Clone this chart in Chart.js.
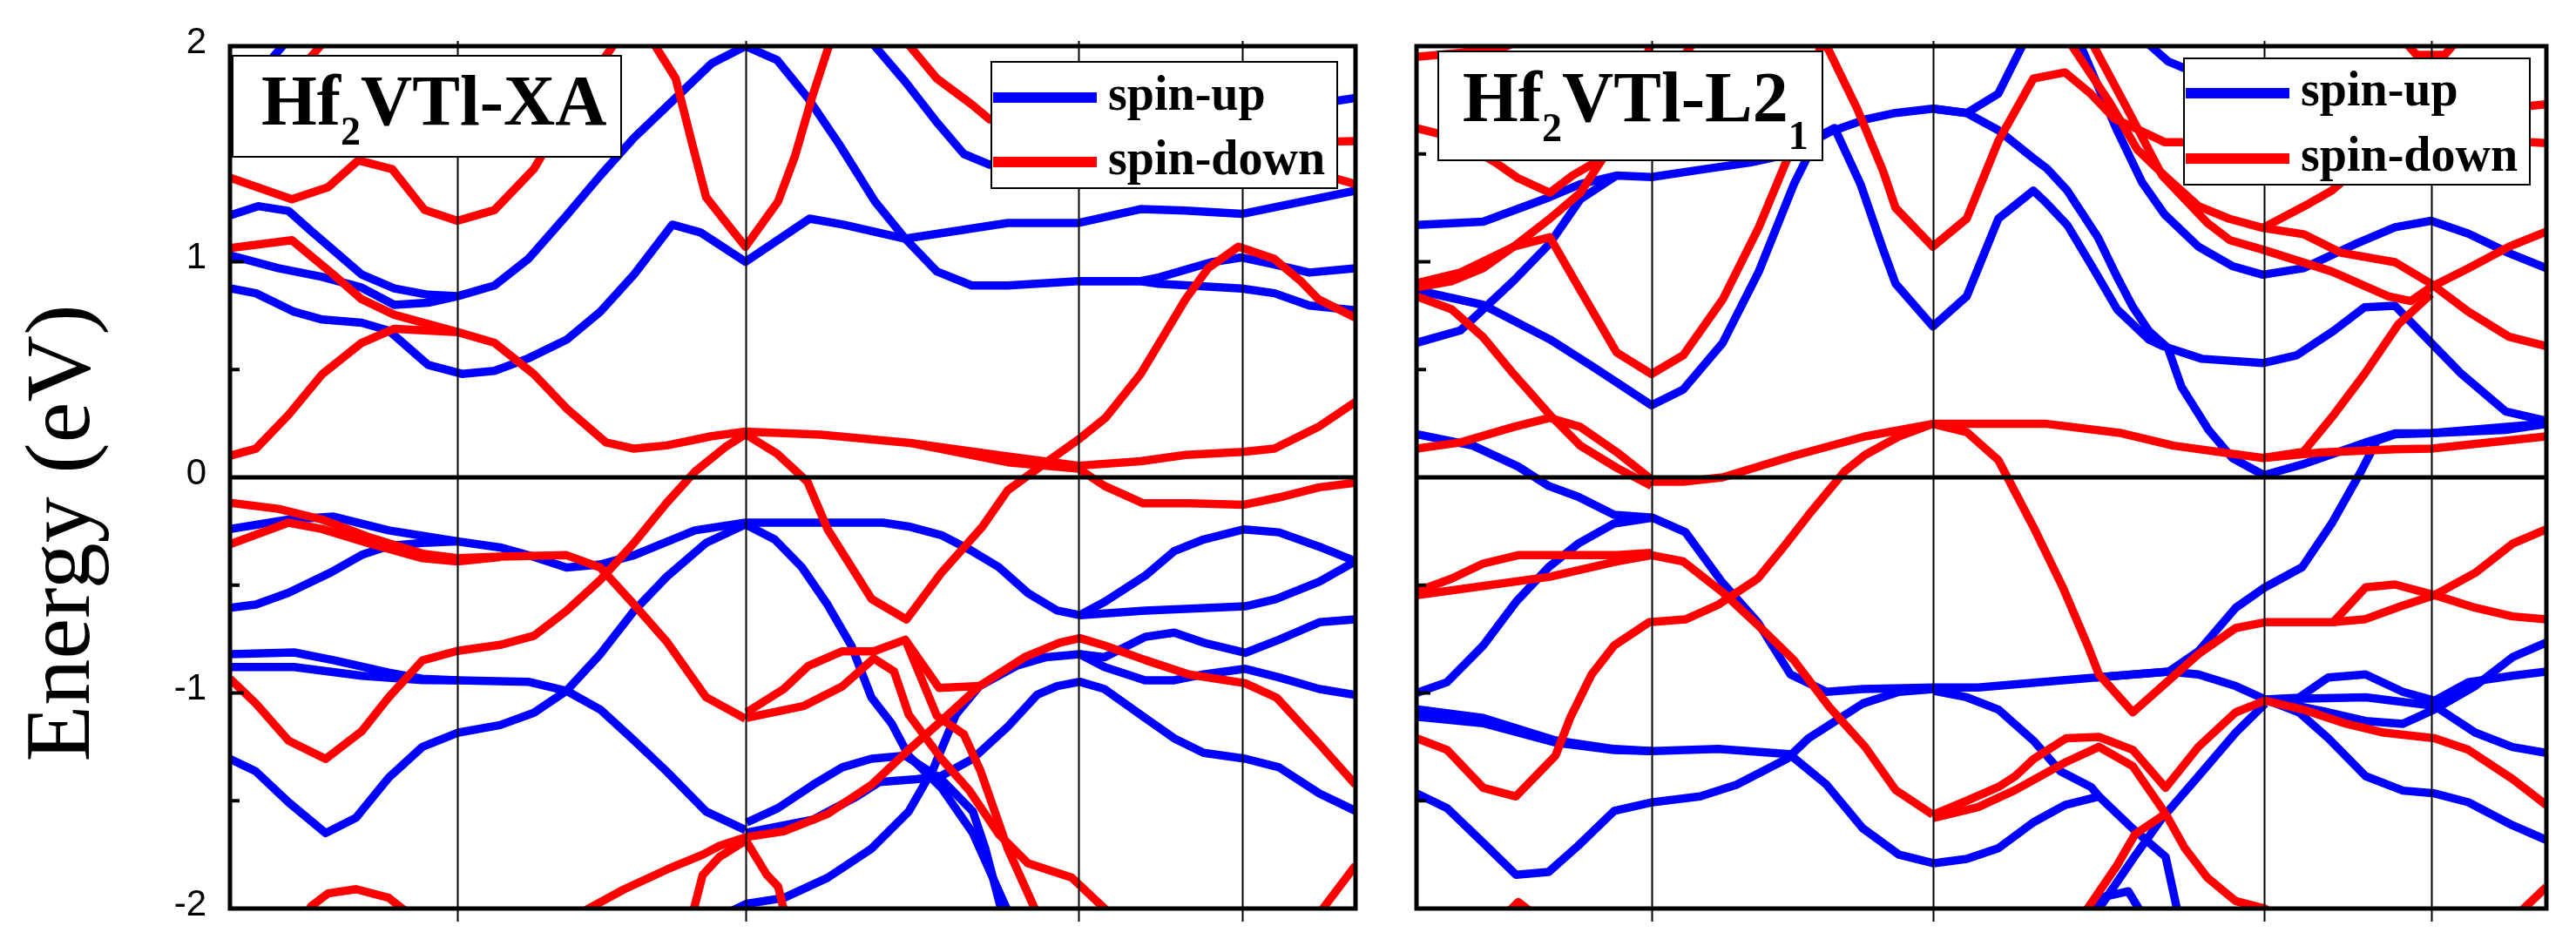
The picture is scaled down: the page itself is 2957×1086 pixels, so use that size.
<!DOCTYPE html>
<html>
<head>
<meta charset="utf-8">
<script src="https://cdn.jsdelivr.net/npm/chart.js@4.4.1/dist/chart.umd.min.js"></script>
<style>
  html, body { margin: 0; padding: 0; background: #fff; }
  #wrap { position: relative; width: 2957px; height: 1086px; overflow: hidden; background: #fff; }
  canvas { position: absolute; top: 0; }
  #cXA { left: 0; }
  #cL21 { left: 1590px; }
</style>
</head>
<body>
<div id="wrap">
  <canvas id="cXA" width="1590" height="1086"></canvas>
  <canvas id="cL21" width="1367" height="1086"></canvas>
</div>
<script>
// k-path is W-L-G-X-W-K, x given as fraction of the path length
const kLinesXA = [0.202, 0.458, 0.754, 0.899];
const kLinesL21 = [0.208, 0.457, 0.75, 0.898];
const yTicks = [-2, -1, 0, 1, 2];
const legendLabels = ['spin-up', 'spin-down'];
const upColor = '#0000ff';
const downColor = '#ff0000';

// ---- Hf2VTl-XA, spin-up bands [k, E] ----
const xaU1 = [[0,1.215],[0.025,1.258],[0.052,1.236],[0.072,1.143],[0.117,0.941],[0.146,0.876],[0.176,0.847],[0.202,0.84],[0.235,0.89],[0.265,1.013],[0.299,1.215],[0.329,1.40],[0.359,1.575],[0.388,1.72],[0.428,1.92],[0.458,2.0],[0.486,1.936],[0.513,1.763],[0.541,1.547],[0.573,1.28],[0.6,1.107],[0.628,0.955],[0.659,0.89],[0.691,0.89],[0.754,0.91],[0.809,0.91],[0.825,0.898],[0.899,0.876],[0.928,0.854],[0.959,0.797],[1.0,0.775]];
const xaU2 = [[0,1.03],[0.043,0.97],[0.082,0.93],[0.117,0.88],[0.146,0.80],[0.176,0.81],[0.202,0.84]];
const xaU3 = [[0.754,0.91],[0.809,0.91],[0.825,0.927],[0.872,0.998],[0.899,1.02],[0.928,0.987],[0.959,0.95],[1.0,0.97]];
const xaU4 = [[0,0.877],[0.023,0.854],[0.057,0.768],[0.082,0.732],[0.117,0.717],[0.141,0.681],[0.176,0.522],[0.206,0.48],[0.235,0.494],[0.265,0.552],[0.299,0.638],[0.329,0.768],[0.359,0.941],[0.393,1.172],[0.418,1.136],[0.458,1.0],[0.515,1.2],[0.545,1.172],[0.6,1.107],[0.691,1.18],[0.754,1.18],[0.809,1.244],[0.849,1.237],[0.899,1.222],[1.0,1.33]];
const xaU5 = [[0,1.75],[0.03,1.9],[0.055,2.05],[0.07,2.3]];
const xaU6 = [[0.55,2.3],[0.573,2.0],[0.6,1.835],[0.628,1.647],[0.652,1.5],[0.675,1.45],[0.75,1.42],[0.85,1.55],[0.95,1.72],[1.0,1.76]];
const xaU7 = [[0,-0.24],[0.052,-0.196],[0.092,-0.182],[0.141,-0.246],[0.202,-0.297],[0.24,-0.325],[0.265,-0.361],[0.299,-0.418],[0.329,-0.404],[0.359,-0.361],[0.413,-0.246],[0.458,-0.21],[0.518,-0.21],[0.58,-0.21],[0.603,-0.228],[0.632,-0.268],[0.657,-0.335],[0.683,-0.416],[0.709,-0.537],[0.735,-0.618],[0.755,-0.639],[0.777,-0.578],[0.813,-0.457],[0.839,-0.342],[0.865,-0.288],[0.901,-0.241],[0.932,-0.255],[0.968,-0.322],[1.0,-0.389]];
const xaU8 = [[0.755,-0.639],[0.813,-0.618],[0.902,-0.598],[0.929,-0.565],[0.968,-0.483],[1.0,-0.389]];
const xaU9 = [[0,-0.605],[0.023,-0.59],[0.052,-0.535],[0.09,-0.44],[0.117,-0.36],[0.141,-0.318],[0.171,-0.304],[0.202,-0.297]];
const xaU10 = [[0,-0.82],[0.057,-0.812],[0.092,-0.848],[0.141,-0.906],[0.171,-0.934],[0.202,-0.941],[0.265,-0.948],[0.299,-0.99],[0.329,-1.077],[0.359,-1.22],[0.388,-1.364],[0.423,-1.55],[0.458,-1.636]];
const xaU11 = [[0,-0.88],[0.057,-0.88],[0.117,-0.92],[0.171,-0.94],[0.202,-0.941]];
const xaU12 = [[0,-1.306],[0.023,-1.364],[0.052,-1.507],[0.085,-1.65],[0.112,-1.579],[0.141,-1.393],[0.171,-1.25],[0.202,-1.185],[0.24,-1.149],[0.27,-1.092],[0.299,-0.99],[0.329,-0.82],[0.359,-0.619],[0.388,-0.461],[0.423,-0.304],[0.458,-0.218],[0.484,-0.288],[0.508,-0.416],[0.531,-0.591],[0.552,-0.78],[0.57,-1.022],[0.588,-1.143],[0.603,-1.291],[0.632,-1.44],[0.66,-1.65],[0.69,-2.0],[0.7,-2.1]];
const xaU13 = [[0.459,-1.601],[0.487,-1.534],[0.518,-1.426],[0.544,-1.345],[0.57,-1.305],[0.6,-1.291],[0.632,-1.40],[0.66,-1.55],[0.671,-1.72],[0.685,-2.0],[0.69,-2.1]];
const xaU14 = [[0.459,-1.648],[0.518,-1.588],[0.557,-1.48],[0.577,-1.413],[0.61,-1.40],[0.632,-1.385],[0.66,-1.305],[0.691,-1.157],[0.717,-1.009],[0.735,-0.968],[0.755,-0.948],[0.777,-0.982],[0.813,-1.116],[0.839,-1.211],[0.865,-1.278],[0.902,-1.305],[0.932,-1.345],[0.968,-1.467],[1.0,-1.547]];
const xaU15 = [[0.43,-2.05],[0.459,-1.978],[0.492,-1.951],[0.531,-1.857],[0.57,-1.722],[0.603,-1.55],[0.625,-1.35],[0.645,-1.1],[0.666,-0.968],[0.699,-0.874],[0.725,-0.834],[0.755,-0.82],[0.777,-0.88],[0.813,-0.941],[0.839,-0.941],[0.865,-0.914],[0.902,-0.888],[0.932,-0.928],[0.968,-0.982],[1.0,-1.009]];
const xaU16 = [[0.755,-0.82],[0.777,-0.834],[0.813,-0.74],[0.839,-0.72],[0.865,-0.767],[0.902,-0.814],[0.932,-0.753],[0.968,-0.672],[1.0,-0.659]];

// ---- Hf2VTl-XA, spin-down bands ----
const xaD1 = [[0,1.39],[0.055,1.29],[0.087,1.345],[0.114,1.47],[0.144,1.43],[0.173,1.24],[0.202,1.19],[0.235,1.24],[0.27,1.43],[0.3,1.7],[0.34,2.0],[0.36,2.15]];
const xaD2 = [[0,1.51],[0.04,1.75],[0.08,2.0],[0.1,2.15]];
const xaD3 = [[0.36,2.15],[0.378,2.0],[0.396,1.85],[0.41,1.56],[0.423,1.3],[0.438,1.2],[0.458,1.07],[0.487,1.28],[0.502,1.49],[0.517,1.76],[0.532,2.0],[0.545,2.2]];
const xaD4 = [[0.58,2.2],[0.604,2.0],[0.628,1.85],[0.659,1.73],[0.675,1.66],[0.8,1.55],[0.9,1.55],[1.0,1.56]];
const xaD5 = [[0.96,1.42],[1.0,1.36]];
const xaD6 = [[0,1.063],[0.055,1.1],[0.092,0.94],[0.117,0.826],[0.146,0.754],[0.202,0.674],[0.235,0.624],[0.27,0.479],[0.299,0.32],[0.334,0.162],[0.359,0.133],[0.388,0.148],[0.428,0.191],[0.458,0.212],[0.525,0.198],[0.604,0.16],[0.691,0.097],[0.754,0.054],[0.809,0.075],[0.849,0.104],[0.9,0.118],[0.928,0.133],[0.967,0.234],[1.0,0.35]];
const xaD7 = [[0,0.1],[0.023,0.133],[0.052,0.29],[0.082,0.479],[0.117,0.624],[0.146,0.689],[0.202,0.674]];
const xaD8 = [[0,-0.934],[0.023,-1.049],[0.052,-1.221],[0.085,-1.306],[0.117,-1.178],[0.141,-1.02],[0.171,-0.849],[0.202,-0.805],[0.24,-0.777],[0.27,-0.735],[0.299,-0.619],[0.329,-0.476],[0.359,-0.304],[0.388,-0.118],[0.413,0.026],[0.44,0.14],[0.458,0.2],[0.486,0.11],[0.513,-0.02],[0.531,-0.241],[0.57,-0.564],[0.601,-0.659],[0.632,-0.443],[0.668,-0.232],[0.691,-0.06],[0.72,0.05],[0.754,0.176],[0.778,0.277],[0.809,0.479],[0.829,0.652],[0.849,0.826],[0.869,0.97],[0.896,1.07],[0.928,1.013],[0.951,0.912],[0.967,0.826],[1.0,0.74]];
const xaD9 = [[0.604,0.16],[0.691,0.07],[0.754,0.04],[0.777,-0.04],[0.811,-0.12],[0.852,-0.12],[0.901,-0.127],[0.932,-0.093],[0.968,-0.046],[1.0,-0.025]];
const xaD10 = [[0,-0.118],[0.043,-0.146],[0.082,-0.196],[0.122,-0.275],[0.171,-0.354],[0.202,-0.375],[0.24,-0.368],[0.299,-0.361],[0.329,-0.418],[0.359,-0.59],[0.388,-0.762],[0.423,-1.02],[0.458,-1.12]];
const xaD11 = [[0,-0.31],[0.052,-0.21],[0.082,-0.24],[0.122,-0.304],[0.171,-0.375],[0.202,-0.39],[0.24,-0.37]];
const xaD12 = [[0.459,-1.09],[0.492,-0.982],[0.514,-0.874],[0.544,-0.807],[0.572,-0.807],[0.6,-0.753],[0.63,-0.977],[0.666,-0.968]];
const xaD13 = [[0.459,-1.668],[0.492,-1.642],[0.531,-1.561],[0.57,-1.426],[0.603,-1.264],[0.632,-1.13],[0.666,-0.968],[0.706,-0.834],[0.737,-0.767],[0.755,-0.746],[0.777,-0.78],[0.813,-0.847],[0.852,-0.914],[0.902,-0.955],[0.93,-1.022],[0.968,-1.238],[1.0,-1.426]];
const xaD14 = [[0.459,-1.116],[0.51,-1.06],[0.544,-0.97],[0.572,-0.84],[0.59,-0.9],[0.603,-1.1],[0.632,-1.305],[0.657,-1.453],[0.683,-1.655],[0.709,-1.79],[0.748,-1.857],[0.777,-2.0],[0.79,-2.1]];
const xaD15 = [[0.6,-0.753],[0.628,-1.106],[0.652,-1.192],[0.667,-1.364],[0.691,-1.722],[0.715,-2.0],[0.72,-2.1]];
const xaD16 = [[0.3,-2.1],[0.317,-2.005],[0.35,-1.911],[0.389,-1.817],[0.42,-1.75],[0.435,-1.709],[0.459,-1.668]];
const xaD17 = [[0.41,-2.1],[0.412,-2.005],[0.42,-1.844],[0.435,-1.76],[0.459,-1.682]];
const xaD18 = [[0.459,-1.69],[0.477,-1.844],[0.487,-1.898],[0.492,-2.005],[0.495,-2.1]];
const xaD19 = [[0.06,-2.1],[0.072,-1.99],[0.087,-1.93],[0.112,-1.91],[0.141,-1.95],[0.165,-2.05]];
const xaD20 = [[0.965,-2.1],[0.971,-2.0],[1.0,-1.8]];

// ---- Hf2VTl-L21, spin-up bands ----
const l2U1 = [[0,1.171],[0.059,1.186],[0.118,1.30],[0.145,1.36],[0.177,1.40],[0.208,1.393],[0.255,1.43],[0.295,1.46],[0.33,1.50],[0.365,1.60],[0.397,1.66],[0.424,1.69],[0.457,1.71],[0.487,1.69],[0.515,1.78],[0.535,1.99],[0.545,2.1]];
const l2U2 = [[0.457,1.71],[0.487,1.69],[0.515,1.61],[0.546,1.48],[0.558,1.432],[0.576,1.33],[0.603,1.114],[0.62,0.93],[0.634,0.79],[0.648,0.68],[0.665,0.6],[0.677,0.42],[0.701,0.22],[0.722,0.09],[0.75,0.01],[0.784,0.06],[0.839,0.16],[0.866,0.204],[0.898,0.205],[0.964,0.22],[1.0,0.248]];
const l2U3 = [[0,0.868],[0.059,0.80],[0.118,0.64],[0.157,0.51],[0.208,0.334],[0.236,0.407],[0.271,0.624],[0.303,0.955],[0.334,1.36],[0.355,1.58],[0.37,1.62],[0.393,1.36],[0.413,1.056],[0.424,0.898],[0.457,0.70],[0.487,0.84],[0.515,1.2],[0.546,1.33],[0.558,1.27],[0.576,1.17],[0.6,0.96],[0.62,0.78],[0.648,0.64],[0.66,0.61],[0.695,0.55],[0.749,0.53],[0.779,0.566],[0.812,0.681],[0.839,0.789],[0.866,0.796],[0.898,0.624],[0.925,0.479],[0.964,0.306],[1.0,0.262]];
const l2U4 = [[0,0.624],[0.039,0.682],[0.086,0.912],[0.118,1.085],[0.145,1.29],[0.177,1.40]];
const l2U5 = [[0,0.2],[0.05,0.147],[0.09,0.05],[0.117,-0.04],[0.143,-0.09],[0.175,-0.174],[0.209,-0.187],[0.238,-0.254],[0.27,-0.483],[0.302,-0.672],[0.331,-0.914],[0.363,-0.995],[0.395,-0.982],[0.458,-0.975],[0.497,-0.975],[0.601,-0.928],[0.666,-0.901],[0.692,-0.807],[0.725,-0.605],[0.751,-0.51],[0.784,-0.416],[0.81,-0.214],[0.836,0.028],[0.85,0.17],[0.866,0.2],[0.898,0.205],[1.0,0.25]];
const l2U6 = [[0.601,-0.928],[0.666,-0.901],[0.692,-0.914],[0.725,-0.968],[0.751,-1.03],[0.781,-1.09],[0.807,-1.21],[0.84,-1.386],[0.873,-1.453],[0.901,-1.466],[0.931,-1.507],[0.97,-1.614],[1.0,-1.682]];
const l2U7 = [[0,-1.0],[0.027,-0.95],[0.059,-0.78],[0.088,-0.578],[0.117,-0.416],[0.143,-0.308],[0.175,-0.214],[0.209,-0.187]];
const l2U8 = [[0,-1.076],[0.059,-1.116],[0.123,-1.22],[0.175,-1.26],[0.209,-1.27],[0.267,-1.26],[0.33,-1.284],[0.363,-1.426],[0.395,-1.628],[0.427,-1.75],[0.458,-1.79]];
const l2U9 = [[0,-1.11],[0.059,-1.14],[0.123,-1.23],[0.175,-1.265],[0.209,-1.27]];
const l2U10 = [[0,-1.466],[0.027,-1.534],[0.059,-1.695],[0.088,-1.843],[0.117,-1.83],[0.143,-1.709],[0.175,-1.547],[0.209,-1.507],[0.251,-1.48],[0.283,-1.426],[0.328,-1.305],[0.347,-1.21],[0.363,-1.157],[0.395,-1.049],[0.427,-0.995],[0.458,-0.982]];
const l2U11 = [[0.458,-0.99],[0.487,-1.02],[0.515,-1.077],[0.546,-1.221],[0.57,-1.364],[0.597,-1.436],[0.604,-1.48]];
const l2U12 = [[0.458,-1.79],[0.487,-1.77],[0.515,-1.72],[0.546,-1.6],[0.574,-1.52],[0.604,-1.48],[0.634,-1.63],[0.663,-1.76],[0.673,-2.0],[0.676,-2.1]];
const l2U13 = [[0.598,-2.1],[0.604,-2.0],[0.634,-1.77],[0.66,-1.58],[0.692,-1.386],[0.725,-1.184],[0.751,-1.05]];
const l2U14 = [[0.751,-1.03],[0.781,-1.022],[0.807,-0.928],[0.84,-0.914],[0.873,-0.995],[0.901,-1.036],[0.931,-0.95],[0.97,-0.92],[1.0,-0.901]];
const l2U15 = [[0.751,-1.03],[0.84,-1.02],[0.901,-1.06],[0.937,-1.184],[0.97,-1.251],[1.0,-1.278]];
const l2U16 = [[0.751,-1.03],[0.807,-1.09],[0.84,-1.13],[0.873,-1.143],[0.901,-1.076],[0.937,-0.968],[0.97,-0.834],[1.0,-0.766]];
const l2U17 = [[0.59,-2.05],[0.605,-1.95],[0.63,-1.92],[0.645,-2.05]];
const l2U18 = [[0.575,2.1],[0.588,2.0],[0.62,1.61],[0.642,1.37],[0.662,1.22],[0.692,1.07],[0.722,0.98],[0.749,0.94],[0.785,0.97],[0.83,1.08],[0.866,1.16],[0.898,1.19],[0.931,1.13],[0.967,1.04],[1.0,0.97]];
const l2U19 = [[0.64,2.05],[0.65,2.0],[0.665,1.93],[0.683,1.89],[0.72,1.88]];

// ---- Hf2VTl-L21, spin-down bands ----
const l2D1 = [[0,1.95],[0.04,1.97],[0.08,2.0],[0.1,2.05]];
const l2D2 = [[0,1.62],[0.03,1.58],[0.07,1.46],[0.089,1.39],[0.118,1.32],[0.138,1.40],[0.161,1.47],[0.2,1.7],[0.25,2.05]];
const l2D3 = [[0,0.9],[0.039,0.95],[0.086,1.07],[0.118,1.2],[0.145,1.32],[0.165,1.48],[0.19,1.75],[0.21,2.05]];
const l2D4 = [[0,0.84],[0.031,0.78],[0.059,0.65],[0.086,0.479],[0.118,0.29],[0.145,0.147],[0.177,0.045],[0.208,-0.04]];
const l2D5 = [[0,0.133],[0.039,0.162],[0.086,0.234],[0.118,0.276],[0.145,0.234],[0.177,0.118],[0.208,-0.01]];
const l2D6 = [[0,0.88],[0.031,0.91],[0.059,0.97],[0.086,1.07],[0.118,1.114],[0.145,0.868],[0.177,0.58],[0.208,0.479],[0.236,0.566],[0.271,0.825],[0.303,1.16],[0.33,1.5],[0.345,1.75],[0.36,2.05]];
const l2D7 = [[0.355,2.05],[0.365,1.98],[0.39,1.71],[0.413,1.42],[0.424,1.25],[0.457,1.07],[0.487,1.2],[0.515,1.56],[0.546,1.85],[0.574,1.878],[0.597,1.778],[0.618,1.663],[0.636,1.62],[0.662,1.555],[0.68,1.555],[0.8,1.6],[0.9,1.68],[1.0,1.73]];
const l2D8 = [[0.97,1.56],[1.0,1.55]];
const l2D9 = [[0.57,2.1],[0.581,1.994],[0.614,1.735],[0.638,1.52],[0.662,1.40],[0.692,1.258],[0.719,1.20],[0.749,1.157],[0.785,1.128],[0.818,1.042],[0.866,0.998],[0.898,0.898],[0.931,0.768],[0.967,0.652],[1.0,0.609]];
const l2D10 = [[0.59,2.1],[0.6,1.994],[0.63,1.7],[0.66,1.4],[0.7,1.18],[0.72,1.10],[0.749,1.056],[0.81,0.955],[0.86,0.84],[0.88,0.818],[0.898,0.883],[0.931,0.97],[0.967,1.07],[1.0,1.14]];
const l2D11 = [[0.749,1.157],[0.79,1.27],[0.81,1.33],[0.83,1.42]];
const l2D12 = [[0.208,-0.02],[0.236,-0.02],[0.271,0.0],[0.334,0.10],[0.397,0.19],[0.457,0.248],[0.558,0.248],[0.624,0.205],[0.67,0.147],[0.749,0.09],[0.8,0.115],[0.866,0.13],[0.898,0.133],[1.0,0.19]];
const l2D13 = [[0.749,0.09],[0.785,0.118],[0.812,0.291],[0.839,0.479],[0.869,0.71],[0.898,0.85]];
const l2D14 = [[0,-1.21],[0.027,-1.264],[0.059,-1.44],[0.088,-1.48],[0.123,-1.291],[0.136,-1.116],[0.155,-0.914],[0.175,-0.78],[0.206,-0.672],[0.238,-0.659],[0.267,-0.591],[0.302,-0.47],[0.325,-0.322],[0.347,-0.174],[0.379,0.028],[0.397,0.104],[0.427,0.19],[0.457,0.248],[0.487,0.21],[0.515,0.08],[0.546,-0.23],[0.572,-0.51],[0.594,-0.78],[0.604,-0.914],[0.634,-1.09],[0.666,-0.941],[0.692,-0.82],[0.725,-0.699],[0.751,-0.672],[0.81,-0.672],[0.839,-0.659],[0.87,-0.6],[0.901,-0.546],[0.937,-0.443],[0.97,-0.308],[1.0,-0.241]];
const l2D15 = [[0.81,-0.68],[0.84,-0.51],[0.866,-0.497],[0.901,-0.546],[0.937,-0.605],[0.97,-0.645],[1.0,-0.659]];
const l2D16 = [[0,-0.547],[0.059,-0.504],[0.118,-0.461],[0.177,-0.39],[0.208,-0.361],[0.236,-0.39],[0.271,-0.533],[0.303,-0.69],[0.334,-0.848],[0.365,-1.063],[0.397,-1.25],[0.424,-1.45],[0.457,-1.565]];
const l2D17 = [[0,-0.53],[0.031,-0.47],[0.059,-0.40],[0.09,-0.361],[0.177,-0.361],[0.208,-0.35]];
const l2D18 = [[0.457,-1.565],[0.487,-1.5],[0.515,-1.436],[0.53,-1.386],[0.546,-1.307],[0.575,-1.21],[0.604,-1.204],[0.634,-1.264],[0.663,-1.44],[0.692,-1.25],[0.725,-1.09],[0.751,-1.036],[0.784,-1.076],[0.823,-1.143],[0.856,-1.184],[0.901,-1.21],[0.931,-1.264],[0.97,-1.399],[1.0,-1.52]];
const l2D19 = [[0.457,-1.58],[0.497,-1.53],[0.53,-1.45],[0.575,-1.32],[0.604,-1.25],[0.634,-1.34],[0.663,-1.56]];
const l2D20 = [[0.663,-1.56],[0.68,-1.72],[0.7,-1.857],[0.725,-1.965],[0.751,-2.0],[0.77,-2.1]];
const l2D21 = [[0.59,-2.1],[0.594,-2.0],[0.62,-1.8],[0.636,-1.655],[0.663,-1.56]];
const l2D22 = [[0.075,-2.05],[0.09,-1.97],[0.11,-2.05]];
const l2D23 = [[0.975,-2.05],[0.98,-2.0],[1.0,-1.9]];
const l2D24 = [[0.87,2.05],[0.885,1.96],[0.91,1.96],[0.925,2.05]];

const xaSpinUp = [xaU1, xaU2, xaU3, xaU4, xaU5, xaU6, xaU7, xaU8, xaU9, xaU10, xaU11, xaU12, xaU13, xaU14, xaU15, xaU16];
const xaSpinDown = [xaD1, xaD2, xaD3, xaD4, xaD5, xaD6, xaD7, xaD8, xaD9, xaD10, xaD11, xaD12, xaD13, xaD14, xaD15, xaD16, xaD17, xaD18, xaD19, xaD20];
const l21SpinUp = [l2U1, l2U2, l2U3, l2U4, l2U5, l2U6, l2U7, l2U8, l2U9, l2U10, l2U11, l2U12, l2U13, l2U14, l2U15, l2U16, l2U17, l2U18, l2U19];
const l21SpinDown = [l2D1, l2D2, l2D3, l2D4, l2D5, l2D6, l2D7, l2D8, l2D9, l2D10, l2D11, l2D12, l2D13, l2D14, l2D15, l2D16, l2D17, l2D18, l2D19, l2D20, l2D21, l2D22, l2D23, l2D24];

function bandDatasets(bands, color, label, order) {
    return bands.map(b => ({
        label: label,
        data: b.map(p => ({ x: p[0], y: p[1] })),
        borderColor: color,
        backgroundColor: color,
        borderWidth: 9.5,
        borderJoinStyle: 'round',
        pointRadius: 0,
        fill: false,
        tension: 0,
        clip: 0,
        order: order
    }));
}

// frame, k-lines, ticks, label box and legend drawn on top of the bands
function panelPlugin(cfg) {
    return {
        id: 'panelDeco',
        afterDraw(chart) {
            const ctx = chart.ctx;
            const a = chart.chartArea;
            const xs = chart.scales.x, ys = chart.scales.y;
            ctx.save();
            ctx.strokeStyle = '#000';

            // high symmetry lines
            ctx.lineWidth = 2;
            cfg.kLines.forEach(k => {
                const px = Math.round(xs.getPixelForValue(k)) + 0.5;
                ctx.beginPath();
                ctx.moveTo(px, a.top - 6);
                ctx.lineTo(px, a.bottom + 15);
                ctx.stroke();
            });

            // Fermi level
            const y0 = ys.getPixelForValue(0);
            ctx.lineWidth = 5;
            ctx.beginPath();
            ctx.moveTo(a.left, y0);
            ctx.lineTo(a.right, y0);
            ctx.stroke();

            // inner ticks on left frame
            ctx.lineWidth = 4;
            for (let v = -1.5; v <= 1.5; v += 0.5) {
                const py = ys.getPixelForValue(v);
                const len = Number.isInteger(v) ? 16 : 11;
                ctx.beginPath();
                ctx.moveTo(a.left, py);
                ctx.lineTo(a.left + len, py);
                ctx.stroke();
            }

            // frame
            ctx.lineWidth = 5;
            ctx.strokeRect(a.left, a.top, a.right - a.left, a.bottom - a.top);

            // y tick labels and axis title (left panel only)
            if (cfg.yLabels) {
                ctx.fillStyle = '#000';
                ctx.font = '42px "Liberation Sans", Arial, sans-serif';
                ctx.textAlign = 'right';
                ctx.textBaseline = 'middle';
                yTicks.forEach(t => {
                    ctx.fillText(String(t), 237, ys.getPixelForValue(t) - 4);
                });
                ctx.save();
                ctx.translate(102, 612);
                ctx.rotate(-Math.PI / 2);
                ctx.font = '106px "Liberation Serif", "Times New Roman", serif';
                ctx.textAlign = 'center';
                ctx.textBaseline = 'alphabetic';
                ctx.fillText('Energy (eV)', 0, 0);
                ctx.restore();
            }

            // compound label box
            const lb = cfg.labelBox;
            ctx.fillStyle = '#fff';
            ctx.fillRect(lb.x, lb.y, lb.w, lb.h);
            ctx.lineWidth = 2;
            ctx.strokeRect(lb.x, lb.y, lb.w, lb.h);
            ctx.fillStyle = '#000';
            ctx.textAlign = 'left';
            ctx.textBaseline = 'alphabetic';
            let tx = lb.tx;
            lb.parts.forEach(p => {
                ctx.font = p.sub ? 'bold 46px "Liberation Serif", serif' : 'bold 82px "Liberation Serif", serif';
                ctx.fillText(p.t, tx, p.sub ? lb.ty + p.sub : lb.ty);
                tx += ctx.measureText(p.t).width;
            });

            // legend
            const lg = cfg.legend;
            ctx.fillStyle = '#fff';
            ctx.fillRect(lg.x, lg.y, lg.w, lg.h);
            ctx.lineWidth = 2;
            ctx.strokeStyle = '#000';
            ctx.strokeRect(lg.x, lg.y, lg.w, lg.h);
            [upColor, downColor].forEach((c, i) => {
                const ly = lg.rows[i];
                ctx.strokeStyle = c;
                ctx.lineWidth = 12;
                ctx.beginPath();
                ctx.moveTo(lg.x + 2, ly);
                ctx.lineTo(lg.x + 121, ly);
                ctx.stroke();
                ctx.fillStyle = '#000';
                ctx.font = 'bold 56px "Liberation Serif", serif';
                ctx.fillText(legendLabels[i], lg.x + 134, ly + 14);
            });
            ctx.restore();
        }
    };
}

function makePanel(canvasId, up, down, pad, cfg) {
    new Chart(document.getElementById(canvasId), {
        type: 'line',
        data: {
            datasets: bandDatasets(down, downColor, 'spin-down', 0)
                .concat(bandDatasets(up, upColor, 'spin-up', 1))
        },
        options: {
            responsive: false,
            animation: false,
            devicePixelRatio: 1,
            events: [],
            layout: { padding: pad },
            plugins: { legend: { display: false }, tooltip: { enabled: false } },
            scales: {
                x: { type: 'linear', min: 0, max: 1, display: false },
                y: { type: 'linear', min: -2, max: 2, display: false }
            }
        },
        plugins: [panelPlugin(cfg)]
    });
}

makePanel('cXA', xaSpinUp, xaSpinDown,
    { left: 264, right: 34, top: 53, bottom: 43 },
    {
        kLines: kLinesXA,
        yLabels: true,
        labelBox: { x: 267, y: 64, w: 446, h: 116, tx: 300, ty: 143,
            parts: [{ t: 'Hf' }, { t: '2', sub: 23 }, { t: 'VTl-XA' }] },
        legend: { x: 1138, y: 71, w: 397, h: 145, rows: [112, 186] }
    });

makePanel('cL21', l21SpinUp, l21SpinDown,
    { left: 36, right: 34, top: 53, bottom: 43 },
    {
        kLines: kLinesL21,
        yLabels: false,
        labelBox: { x: 61, y: 59, w: 441, h: 125, tx: 89, ty: 139,
            parts: [{ t: 'Hf' }, { t: '2', sub: 23 }, { t: 'VTl-L2' }, { t: '1', sub: 32 }] },
        legend: { x: 917, y: 67, w: 397, h: 145, rows: [107, 182] }
    });
</script>
</body>
</html>
